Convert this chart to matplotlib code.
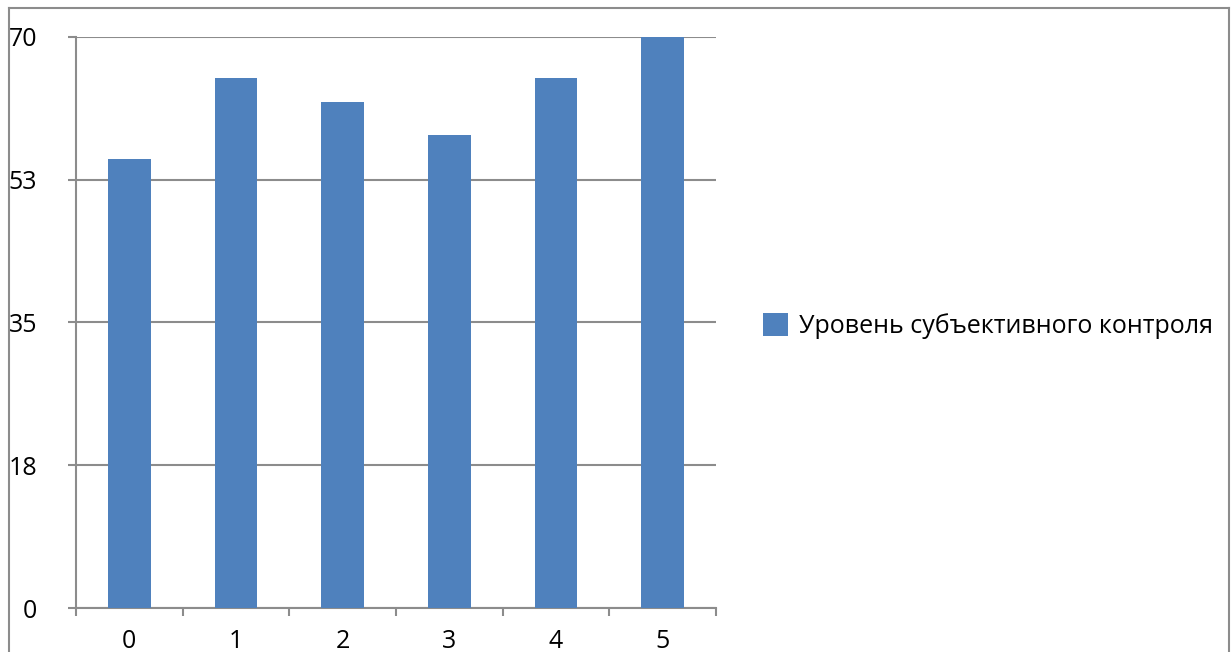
import matplotlib.pyplot as plt
from matplotlib.lines import Line2D
from matplotlib.patches import Patch
import numpy as np

categories = ['0', '1', '2', '3', '4', '5']
values = [55, 65, 62, 58, 65, 70]
series_name = 'Уровень субъективного контроля'
ytick_values = [0, 17.5, 35, 52.5, 70]
ytick_labels = ['0', '18', '35', '53', '70']

W, H = 1231, 652
plt.rcParams['font.family'] = ['Open Sans', 'DejaVu Sans']
grey = '#8c8c8c'
bar_color = '#4f81bd'

fig = plt.figure(figsize=(W / 100, H / 100), dpi=100)
ax = fig.add_axes([76 / W, 1 - 608 / H, (716 - 76) / W, (608 - 37) / H])

x = np.arange(len(categories))
ax.bar(x, values, width=0.4, color=bar_color, zorder=3)

ax.set_xlim(-0.5, len(categories) - 0.5)
ax.set_ylim(0, 70)
ax.set_yticks(ytick_values)
ax.set_yticklabels(ytick_labels)
ax.set_xticks(x)
ax.set_xticklabels(categories)
ax.set_xticks(np.arange(-0.5, len(categories)), minor=True)

ax.grid(axis='y', color=grey, lw=1.5, zorder=1)
ax.tick_params(axis='x', which='major', length=0, pad=15, labelsize=18)
ax.tick_params(axis='x', which='minor', length=6, width=1.5, color=grey, direction='out')
ax.tick_params(axis='y', length=6, width=1.5, color=grey, pad=22, labelsize=18)

for s in ['top', 'right']:
    ax.spines[s].set_visible(False)
for s in ['left', 'bottom']:
    ax.spines[s].set_color(grey)
    ax.spines[s].set_linewidth(1.5)

# outer chart frame
fig.add_artist(Line2D([9 / W, 9 / W], [0, 1 - 8 / H], color=grey, lw=1.5))
fig.add_artist(Line2D([9 / W, 1229 / W], [1 - 8 / H, 1 - 8 / H], color=grey, lw=1.5))
fig.add_artist(Line2D([1229 / W, 1229 / W], [0, 1 - 8 / H], color=grey, lw=1.5))

handle = Patch(facecolor=bar_color, label=series_name)
fig.legend(handles=[handle], loc='center left', bbox_to_anchor=(763 / W, 1 - 326 / H),
           frameon=False, fontsize=18, handlelength=1.0, handleheight=1.0,
           handletextpad=0.45, borderpad=0, borderaxespad=0)

fig.savefig('out.png', dpi=100)
